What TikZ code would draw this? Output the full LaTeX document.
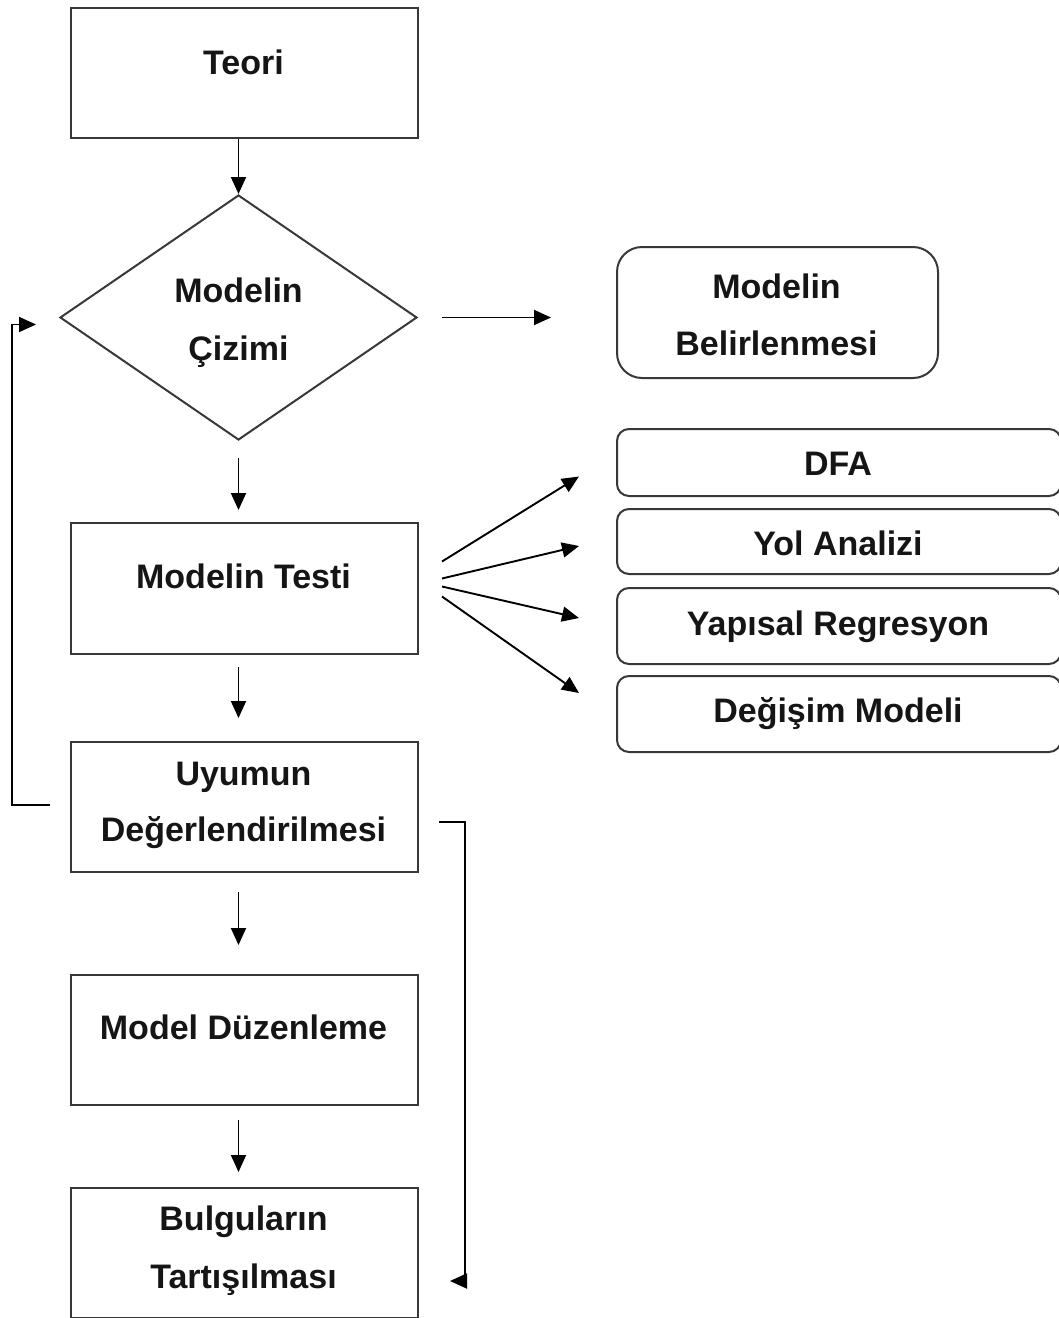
\documentclass[tikz,border=0pt]{standalone}
\usepackage{fontspec}
\setmainfont{Liberation Sans}
\usetikzlibrary{shapes.geometric,arrows.meta,calc}
\definecolor{boxgray}{HTML}{383838}
\definecolor{textblack}{HTML}{151515}
\begin{document}
\begin{tikzpicture}[x=1pt,y=-1pt,
  box/.style={draw=boxgray,line width=2pt,minimum width=347pt,minimum height=130pt,anchor=north west,inner sep=0pt},
  rbox/.style={draw=boxgray,line width=2pt,rounded corners=12pt,anchor=north west,inner sep=0pt},
  txt/.style={font=\bfseries\fontsize{34}{40}\selectfont,anchor=base,inner sep=0pt,text=textblack},
  arr/.style={draw=black,line width=1.9pt,-{Triangle[length=17pt,width=15pt]}}]
\useasboundingbox (0,0) rectangle (1059,1318);
% left column
\node[box] (teori) at (70,7) {};
\node[txt] (teoriT) at (243.5,74) {Teori};
\node[draw=boxgray,line width=2pt,diamond,minimum width=357pt,minimum height=245pt,inner sep=0pt] (ciz) at (238.5,317.5) {};
\node[txt] (ciz1) at (238.5,302) {Modelin};
\node[txt] (ciz2) at (238.5,360) {Çizimi};
\node[box,minimum height=131pt] (testi) at (70,522) {};
\node[txt] (testiT) at (243.5,588) {Modelin Testi};
\node[box] (uyum) at (70,741) {};
\node[txt] (uyum1) at (243.5,785) {Uyumun};
\node[txt] (uyum2) at (243.5,841) {Değerlendirilmesi};
\node[box] (duz) at (70,974) {};
\node[txt] (duzT) at (243.5,1039) {Model Düzenleme};
\node[box] (bulg) at (70,1187) {};
\node[txt] (bulg1) at (243.5,1230) {Bulguların};
\node[txt] (bulg2) at (243.5,1288) {Tartışılması};
% right column
\node[rbox,rounded corners=25pt,minimum width=321pt,minimum height=131pt] (bel) at (616,246) {};
\node[txt] (bel1) at (776.5,298) {Modelin};
\node[txt] (bel2) at (776.5,355) {Belirlenmesi};
\node[rbox,minimum width=444pt,minimum height=67pt] (dfa) at (616,428) {};
\node[txt] (dfaT) at (838,475) {DFA};
\node[rbox,minimum width=444pt,minimum height=65pt] (yol) at (616,508) {};
\node[txt] (yolT) at (838,555) {Yol Analizi};
\node[rbox,minimum width=444pt,minimum height=76pt] (yap) at (616,587) {};
\node[txt] (yapT) at (838,635) {Yapısal Regresyon};
\node[rbox,minimum width=444pt,minimum height=76pt] (deg) at (616,675) {};
\node[txt] (degT) at (838,722) {Değişim Modeli};
% vertical arrows
\draw[arr] (ciz.north |- teori.south) -- (ciz.north);
\draw[arr] ($(ciz.south)+(0,17)$) -- ($(ciz.south |- testi.north)+(0,-12)$);
\draw[arr] ($(ciz.south |- testi.south)+(0,12)$) -- ($(ciz.south |- uyum.north)+(0,-23)$);
\draw[arr] ($(ciz.south |- uyum.south)+(0,19)$) -- ($(ciz.south |- duz.north)+(0,-29)$);
\draw[arr] ($(ciz.south |- duz.south)+(0,14)$) -- ($(ciz.south |- bulg.north)+(0,-15)$);
% diamond to Modelin Belirlenmesi
\draw[arr] ($(ciz.east)+(24,0)$) -- ($(ciz.east -| bel.west)+(-65,0)$);
% fan
\draw[arr] ($(testi.east)+(23,-27)$) -- ($(dfa.west)+(-37,14)$);
\draw[arr] ($(testi.east)+(23,-10)$) -- ($(yol.west)+(-37,4.5)$);
\draw[arr] ($(testi.east)+(23,-2)$) -- ($(yap.west)+(-37,-8)$);
\draw[arr] ($(testi.east)+(23,8)$) -- ($(deg.west)+(-37,-21)$);
% feedback loops
\draw[arr] ($(uyum.west)+(-20,-2)$) -- ++(-38,0) |- ($(ciz.west)+(-23,7)$);
\draw[arr] ($(uyum.east)+(20,15)$) -- ++(26,0) |- ($(bulg.east)+(31,28)$);
\end{tikzpicture}
\end{document}
